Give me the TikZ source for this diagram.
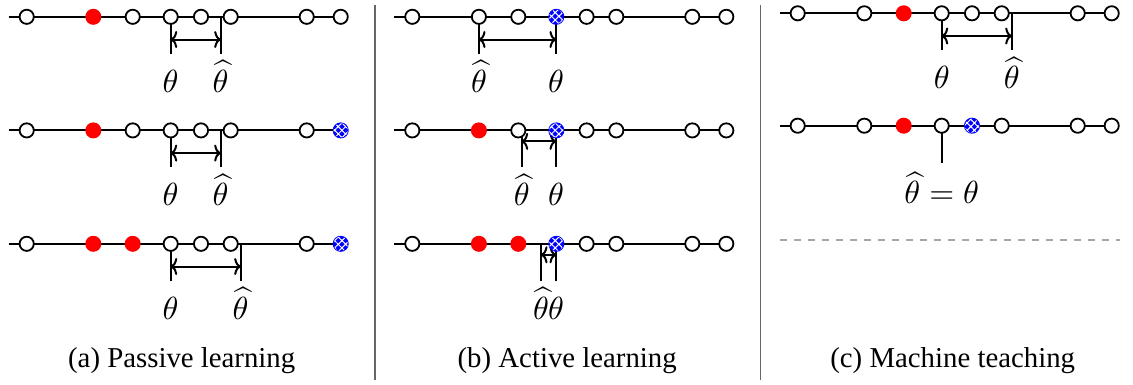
\documentclass[tikz,border=0pt]{standalone}
\usepackage[no-math]{fontspec}
\setmainfont{Liberation Serif}
\usetikzlibrary{arrows.meta,patterns.meta,backgrounds,calc}
\tikzset{
  dotbase/.style={circle,inner sep=0pt,minimum size=14.2pt,line width=1.8pt},
  dotw/.style={dotbase,draw=black,fill=white},
  dotr/.style={dotbase,draw=red,fill=red},
  dotb/.style={dotbase,draw=blue,fill=blue,postaction={pattern={Hatch[angle=45,distance=5.2pt,line width=1pt]},pattern color=white}},
  axisline/.style={line width=1.9pt},
  tickline/.style={line width=1.9pt},
  dimarrow/.style={line width=2pt,{Computer Modern Rightarrow[length=6.5pt,width=17pt]}-{Computer Modern Rightarrow[length=6.5pt,width=17pt]}},
  mathlab/.style={anchor=base,inner sep=0pt,scale=3.2,font=\normalsize},
  captext/.style={anchor=base,inner sep=0pt,font=\fontsize{28.8}{32}\selectfont},
  sepline/.style={line width=1.5pt,draw=black!60},
  guideline/.style={line width=1.6pt,draw=black!35,dash pattern=on 7pt off 7pt},
}
\newcommand\mytick[3]{%
  \coordinate (#1) at (#2,#3);
  \coordinate (#1-e) at (#2,#3+37);
  \draw[tickline] (#1) -- (#1-e);}
\begin{document}
\begin{tikzpicture}[x=1pt,y=-1pt]
\useasboundingbox (0,0) rectangle (1133,384);

% ---------- circles ----------
% panel (a)
\foreach \x/\s [count=\i] in {26.7/w,93.3/r,132.7/w,170.7/w,201/w,230.7/w,306.7/w,340.7/w}
  {\node[dot\s] (a1-\i) at (\x,16.8) {};}
\foreach \x/\s [count=\i] in {26.7/w,93.3/r,132.7/w,170.7/w,201/w,230.7/w,306.7/w,340.7/b}
  {\node[dot\s] (a2-\i) at (\x,130.4) {};}
\foreach \x/\s [count=\i] in {26.7/w,93.3/r,132.7/r,170.7/w,201/w,230.7/w,306.7/w,340.7/b}
  {\node[dot\s] (a3-\i) at (\x,243.8) {};}
% panel (b)
\foreach \x/\s [count=\i] in {26.7/w,93.3/w,132.7/w,170.7/b,201/w,230.7/w,306.7/w,340.7/w}
  {\node[dot\s] (b1-\i) at (\x+385.6,16.8) {};}
\foreach \x/\s [count=\i] in {26.7/w,93.3/r,132.7/w,170.7/b,201/w,230.7/w,306.7/w,340.7/w}
  {\node[dot\s] (b2-\i) at (\x+385.6,130.4) {};}
\foreach \x/\s [count=\i] in {26.7/w,93.3/r,132.7/r,170.7/b,201/w,230.7/w,306.7/w,340.7/w}
  {\node[dot\s] (b3-\i) at (\x+385.6,243.8) {};}
% panel (c)
\foreach \x/\s [count=\i] in {26.7/w,93.3/w,132.7/r,170.7/w,201/w,230.7/w,306.7/w,340.7/w}
  {\node[dot\s] (c1-\i) at (\x+771,13.3) {};}
\foreach \x/\s [count=\i] in {26.7/w,93.3/w,132.7/r,170.7/w,201/b,230.7/w,306.7/w,340.7/w}
  {\node[dot\s] (c2-\i) at (\x+771,125.7) {};}

\begin{pgfonlayer}{background}
% axis lines
\coordinate (a1-0) at (8.5,16.8);   \draw[axisline] (a1-0) -- (a1-8.center);
\coordinate (a2-0) at (8.5,130.4);  \draw[axisline] (a2-0) -- (a2-8.center);
\coordinate (a3-0) at (8.5,243.8);  \draw[axisline] (a3-0) -- (a3-8.center);
\coordinate (b1-0) at (394,16.8);   \draw[axisline] (b1-0) -- (b1-8.center);
\coordinate (b2-0) at (394,130.4);  \draw[axisline] (b2-0) -- (b2-8.center);
\coordinate (b3-0) at (394,243.8);  \draw[axisline] (b3-0) -- (b3-8.center);
\coordinate (c1-0) at (779.5,13.3); \draw[axisline] (c1-0) -- (c1-8.center);
\coordinate (c2-0) at (779.5,125.7);\draw[axisline] (c2-0) -- (c2-8.center);

% ticks
\mytick{a1t}{170.7}{16.8}  \mytick{a1h}{220.7}{16.8}
\mytick{a2t}{170.7}{130.4} \mytick{a2h}{220.7}{130.4}
\mytick{a3t}{170.7}{243.8} \mytick{a3h}{240.7}{243.8}
\mytick{b1h}{479}{16.8}    \mytick{b1t}{556}{16.8}
\mytick{b2h}{521.7}{130.4} \mytick{b2t}{556}{130.4}
\mytick{b3h}{541}{243.8}   \mytick{b3t}{556}{243.8}
\mytick{c1t}{941.7}{13.3}  \mytick{c1h}{1011.7}{13.3}
\mytick{c2t}{941.7}{125.7}

% dimension arrows
\draw[dimarrow] ($(a1t)+(0,22.7)$) -- ($(a1h)+(0,22.7)$);
\draw[dimarrow] ($(a2t)+(0,22.7)$) -- ($(a2h)+(0,22.7)$);
\draw[dimarrow] ($(a3t)+(0,22.7)$) -- ($(a3h)+(0,22.7)$);
\draw[dimarrow] ($(b1h)+(0,22.7)$) -- ($(b1t)+(0,22.7)$);
\draw[dimarrow] ($(b2h)+(0,11)$) -- ($(b2t)+(0,11)$);
\draw[dimarrow] ($(b3h)+(0,11)$) -- ($(b3t)+(0,11)$);
\draw[dimarrow] ($(c1t)+(0,22.7)$) -- ($(c1h)+(0,22.7)$);
\end{pgfonlayer}

% labels
\node[mathlab] (a1tl) at ($(a1t)+(0,75.5)$) {$\theta$};
\node[mathlab] (a1hl) at ($(a1h)+(0,75.5)$) {$\widehat{\theta}$};
\node[mathlab] (a2tl) at ($(a2t)+(0,75.5)$) {$\theta$};
\node[mathlab] (a2hl) at ($(a2h)+(0,75.5)$) {$\widehat{\theta}$};
\node[mathlab] (a3tl) at ($(a3t)+(0,75.5)$) {$\theta$};
\node[mathlab] (a3hl) at ($(a3h)+(0,75.5)$) {$\widehat{\theta}$};
\node[mathlab] (b1hl) at ($(b1h)+(0,75.5)$) {$\widehat{\theta}$};
\node[mathlab] (b1tl) at ($(b1t)+(0,75.5)$) {$\theta$};
\node[mathlab] (b2hl) at ($(b2h)+(0,75.5)$) {$\widehat{\theta}$};
\node[mathlab] (b2tl) at ($(b2t)+(0,75.5)$) {$\theta$};
\node[mathlab] (b3hl) at ($(b3h)+(0,75.5)$) {$\widehat{\theta}$};
\node[mathlab] (b3tl) at ($(b3t)+(0,75.5)$) {$\theta$};
\node[mathlab] (c1tl) at ($(c1t)+(0,75.5)$) {$\theta$};
\node[mathlab] (c1hl) at ($(c1h)+(0,75.5)$) {$\widehat{\theta}$};
\node[mathlab] (c2tl) at ($(c2t)+(0,78)$) {$\widehat{\theta}=\theta$};

% guide line in (c)
\coordinate (gl) at (780,240); \coordinate (gr) at (1120,240);
\draw[guideline] (gl) -- (gr);

% separators
\coordinate (s1t) at (375,5);   \coordinate (s1b) at (375,380);
\coordinate (s2t) at (760.7,5); \coordinate (s2b) at (760.7,380);
\draw[sepline] (s1t) -- (s1b);
\draw[sepline] (s2t) -- (s2b);

% captions
\node[captext] (capa) at (181.7,367) {(a) Passive learning};
\node[captext] (capb) at (567.2,367) {(b) Active learning};
\node[captext] (capc) at (952.7,367) {(c) Machine teaching};
\end{tikzpicture}
\end{document}
